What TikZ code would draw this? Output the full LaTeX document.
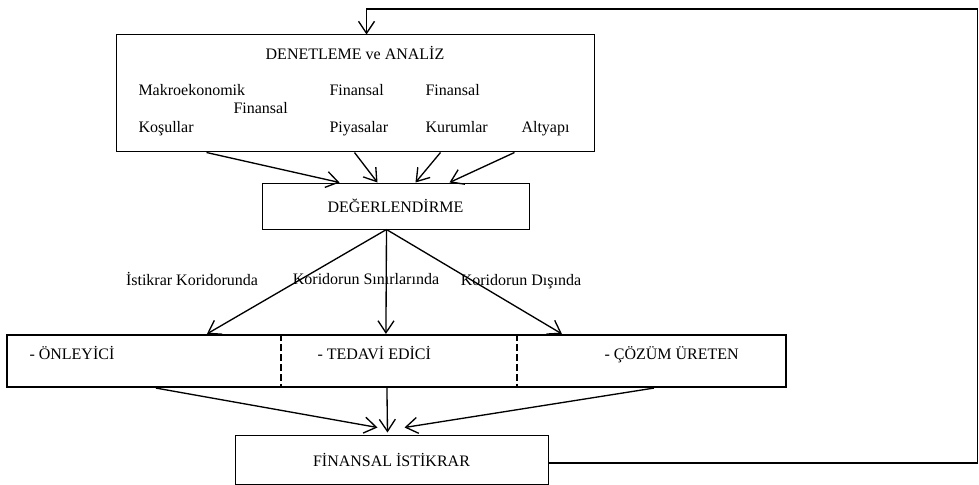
\documentclass[tikz,border=0pt]{standalone}
\usepackage{fontspec}
\setmainfont{Liberation Serif}
\usetikzlibrary{arrows.meta,calc}

\tikzset{every picture/.style={line width=0.75pt}}
\tikzset{
  box/.style={draw, rectangle, inner sep=0pt, font=\fontsize{12}{14}\selectfont},
  lbl/.style={inner sep=0.75pt, font=\fontsize{12}{14}\selectfont, text height=1.6ex, text depth=0.3ex},
  arr/.style={line width=1pt, -{Straight Barb[length=9pt,width=12pt,line width=1pt]}},
  sep/.style={line width=1pt, dash pattern=on 5pt off 2.5pt}
}

\begin{document}
\begin{tikzpicture}[x=0.75pt,y=0.75pt,yscale=-1,xscale=1]
        \path[use as bounding box] (0,0) rectangle (979,485);

        %Shape: Rectangle [id:den]
        \node[box, minimum width=358.5pt, minimum height=87.75pt] (den) at (355,93.5) {};
        %Shape: Rectangle [id:deg]
        \node[box, minimum width=200.25pt, minimum height=34.5pt] (deg) at (395.5,206) {DEĞERLENDİRME};
        %Shape: Rectangle [id:mid]
        \node[box, line width=1.6pt, minimum width=584.25pt, minimum height=39pt] (mid) at (396.5,361) {};
        %Shape: Rectangle [id:fin]
        \node[box, minimum width=234.75pt, minimum height=36.75pt] (fin) at (391.5,459.5) {FİNANSAL İSTİKRAR};

        %Dashed Lines
        \draw[sep] ($(mid.north west)+(275,0)$) -- ($(mid.south west)+(275,0)$);
        \draw[sep] ($(mid.north west)+(511,0)$) -- ($(mid.south west)+(511,0)$);

        %Straight Lines [den -> deg]
        \draw[arr] ($(den.south west)+(91,0)$) -- ($(deg.north west)+(78,0)$);
        \draw[arr] ($(den.south west)+(239,0)$) -- ($(deg.north west)+(116,0)$);
        \draw[arr] ($(den.south west)+(325,0)$) -- ($(deg.north west)+(154,0)$);
        \draw[arr] ($(den.south west)+(399,0)$) -- ($(deg.north west)+(188,0)$);

        %Straight Lines [deg -> mid]
        \draw[arr] ($(deg.south west)+(125,0)$) -- ($(mid.north west)+(201,0)$);
        \draw[arr] ($(deg.south west)+(125,0)$) -- ($(mid.north west)+(380,0)$);
        \draw[arr] ($(deg.south west)+(125,0)$) -- ($(mid.north west)+(556,0)$);

        %Straight Lines [mid -> fin]
        \draw[arr] ($(mid.south west)+(150,0)$) -- ($(fin.north west)+(143,-7)$);
        \draw[arr] ($(mid.south west)+(381,0)$) -- ($(fin.north west)+(153,-2)$);
        \draw[arr] ($(mid.south west)+(648,0)$) -- ($(fin.north west)+(170,-7)$);

        %Straight Lines [fin -> den, feedback]
        \draw[arr] ($(fin.east)+(0,3.5)$) -| ++(429,-454) -| ($(den.north west)+(251,0)$);

        % Text Node
        \node[lbl] (denT) at (355,56) {DENETLEME ve ANALİZ};
        % Text Node
        \node[lbl, anchor=west] (makro) at (137,92) {Makroekonomik};
        % Text Node
        \node[lbl, anchor=west] (kosul) at (137,129) {Koşullar};
        % Text Node
        \node[lbl, anchor=west] (fin1) at (232,110) {Finansal};
        % Text Node
        \node[lbl, anchor=west] (fin2) at (328,92) {Finansal};
        % Text Node
        \node[lbl, anchor=west] (piya) at (328,129) {Piyasalar};
        % Text Node
        \node[lbl, anchor=west] (fin3) at (424,92) {Finansal};
        % Text Node
        \node[lbl, anchor=west] (kuru) at (424,129) {Kurumlar};
        % Text Node
        \node[lbl, anchor=west] (alty) at (520,129) {Altyapı};

        % Text Node
        \node[lbl] (istk) at (192,282) {İstikrar Koridorunda};
        % Text Node
        \node[lbl] (sinir) at (366,281) {Koridorun Sınırlarında};
        % Text Node
        \node[lbl] (disi) at (521,282) {Koridorun Dışında};

        % Text Node
        \node[lbl, anchor=west] (onle) at (28,356) {- ÖNLEYİCİ};
        % Text Node
        \node[lbl, anchor=west] (teda) at (316,356) {- TEDAVİ EDİCİ};
        % Text Node
        \node[lbl, anchor=west] (cozu) at (603,356) {- ÇÖZÜM ÜRETEN};
\end{tikzpicture}
\end{document}
